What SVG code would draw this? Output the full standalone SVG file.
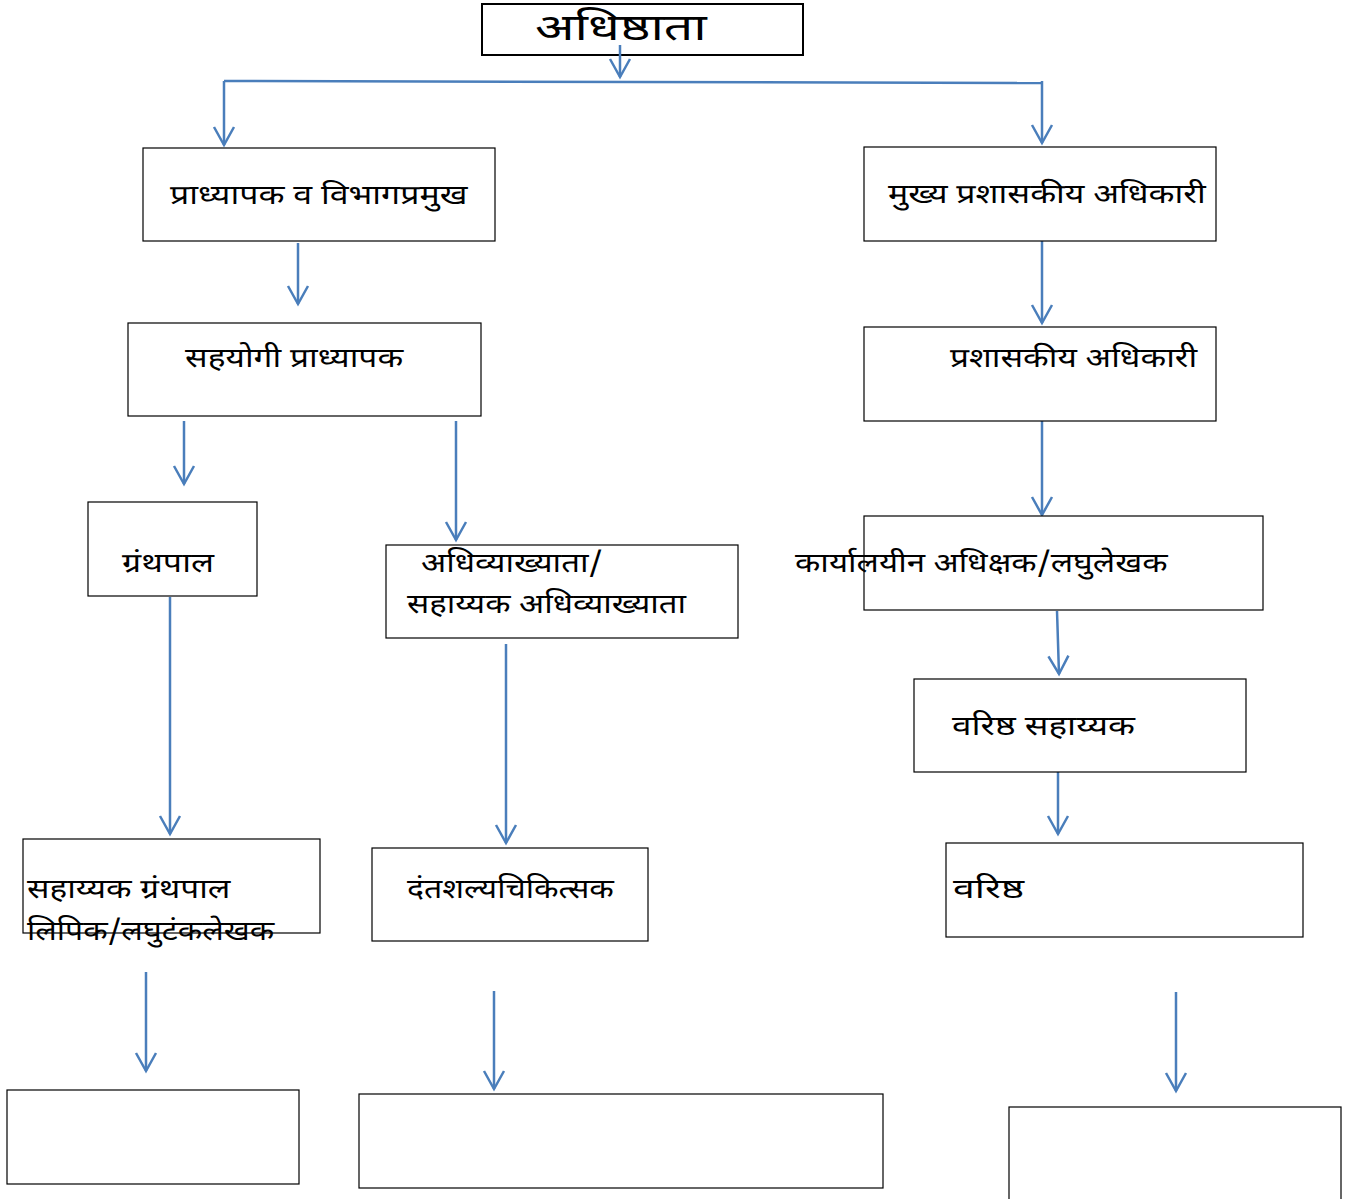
<svg xmlns="http://www.w3.org/2000/svg" width="1357" height="1199" viewBox="0 0 1357 1199">
<defs>
<style>
.box{fill:#fff;stroke:#000;stroke-width:1.2}
.lbl{font-family:"Noto Sans Devanagari","Lohit Devanagari","Noto Sans","Liberation Sans",sans-serif;font-size:27px;fill:#000}
.big{font-size:36px}
.con{fill:none;stroke:#4A7EBB;stroke-width:2.5}
</style>
<marker id="ah" viewBox="0 0 24 24" refX="20" refY="12" markerWidth="24" markerHeight="24" markerUnits="userSpaceOnUse" orient="auto">
<path d="M2,2 L20,12 L2,22" fill="none" stroke="#4A7EBB" stroke-width="2.5"/>
</marker>
</defs>
<rect width="1357" height="1199" fill="#fff"/>
<g id="n-top"><rect class="box" x="482" y="4" width="321" height="51" style="stroke-width:2"/><text class="lbl big" transform="translate(535,40) scale(1.44,1)">अधिष्ठाता</text></g>
<g id="connectors">
<path class="con" d="M620,45 V77" marker-end="url(#ah)"/>
<path class="con" d="M224,81 L1042,83"/>
<path class="con" d="M224,81 V145" marker-end="url(#ah)"/>
<path class="con" d="M1042,81 V143" marker-end="url(#ah)"/>
<path class="con" d="M298,243 V304" marker-end="url(#ah)"/>
<path class="con" d="M1042,241 V323" marker-end="url(#ah)"/>
<path class="con" d="M184,421 V484" marker-end="url(#ah)"/>
<path class="con" d="M456,421 V540" marker-end="url(#ah)"/>
<path class="con" d="M1042,417 V515" marker-end="url(#ah)"/>
<path class="con" d="M170,597 V834" marker-end="url(#ah)"/>
<path class="con" d="M506,644 V843" marker-end="url(#ah)"/>
<path class="con" d="M1057,611 L1059,674" marker-end="url(#ah)"/>
<path class="con" d="M1058,772 V834" marker-end="url(#ah)"/>
<path class="con" d="M146,972 V1071" marker-end="url(#ah)"/>
<path class="con" d="M494,991 V1089" marker-end="url(#ah)"/>
<path class="con" d="M1176,992 V1091" marker-end="url(#ah)"/>
</g>
<g id="n-prof"><rect class="box" x="143" y="148" width="352" height="93"/><text class="lbl" transform="translate(170,204) scale(1.255,1)">प्राध्यापक व विभागप्रमुख</text></g>
<g id="n-cao"><rect class="box" x="864" y="147" width="352" height="94"/><text class="lbl" transform="translate(888,203) scale(1.252,1)">मुख्य प्रशासकीय अधिकारी</text></g>
<g id="n-assoc"><rect class="box" x="128" y="323" width="353" height="93"/><text class="lbl" transform="translate(185,367) scale(1.242,1)">सहयोगी प्राध्यापक</text></g>
<g id="n-ao"><rect class="box" x="864" y="327" width="352" height="94"/><text class="lbl" transform="translate(950,367) scale(1.24,1)">प्रशासकीय अधिकारी</text></g>
<g id="n-lib"><rect class="box" x="88" y="502" width="169" height="94"/><text class="lbl" transform="translate(122,572) scale(1.258,1)">ग्रंथपाल</text></g>
<g id="n-lect"><rect class="box" x="386" y="545" width="352" height="93"/><text class="lbl" transform="translate(421,572) scale(1.224,1)">अधिव्याख्याता/</text><text class="lbl" transform="translate(407,613) scale(1.22,1)">सहाय्यक अधिव्याख्याता</text></g>
<g id="n-sup"><rect class="box" x="864" y="516" width="399" height="94"/><text class="lbl" transform="translate(795,572) scale(1.223,1)">कार्यालयीन अधिक्षक/लघुलेखक</text></g>
<g id="n-sa"><rect class="box" x="914" y="679" width="332" height="93"/><text class="lbl" transform="translate(952,735) scale(1.3,1)">वरिष्ठ सहाय्यक</text></g>
<g id="n-alib"><rect class="box" x="23" y="839" width="297" height="94"/><text class="lbl" transform="translate(27,898) scale(1.233,1)">सहाय्यक ग्रंथपाल</text><text class="lbl" transform="translate(27,940) scale(1.18,1)">लिपिक/लघुटंकलेखक</text></g>
<g id="n-dent"><rect class="box" x="372" y="848" width="276" height="93"/><text class="lbl" transform="translate(407,898) scale(1.185,1)">दंतशल्यचिकित्सक</text></g>
<g id="n-sen"><rect class="box" x="946" y="843" width="357" height="94"/><text class="lbl" transform="translate(953,898) scale(1.45,1)">वरिष्ठ</text></g>
<g id="n-b1"><rect class="box" x="7" y="1090" width="292" height="94"/></g>
<g id="n-b2"><rect class="box" x="359" y="1094" width="524" height="94"/></g>
<g id="n-b3"><rect class="box" x="1009" y="1107" width="332" height="100"/></g>
</svg>
